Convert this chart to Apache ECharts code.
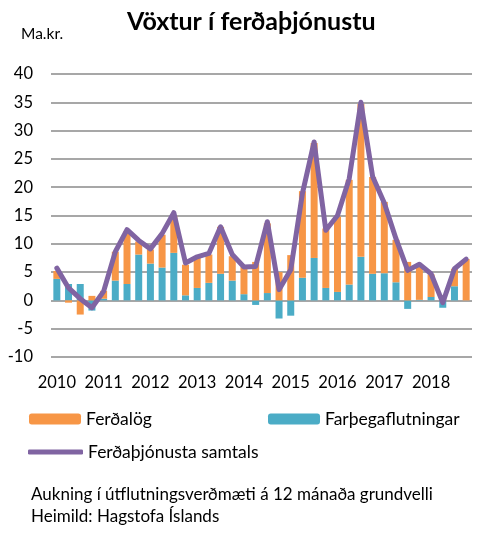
<!DOCTYPE html>
<html>
<head>
<meta charset="utf-8">
<script src="https://cdn.jsdelivr.net/npm/echarts@6/dist/echarts.min.js"></script>
<style>
  html, body { margin: 0; padding: 0; background: #fff; }
  #chart { width: 493px; height: 541px; }
</style>
</head>
<body>
<div id="chart"></div>
<script>
// ársfjórðungar 2010-2018
var years = ['2010', '2011', '2012', '2013', '2014', '2015', '2016', '2017', '2018'];
var quarters = [];
years.forEach(function (y) {
  ['K1', 'K2', 'K3', 'K4'].forEach(function (q) { quarters.push(y + ' ' + q); });
});

var farthegar = [3.8, 2.9, 2.9, -1.8, 0.3, 3.5, 2.9, 8.1, 6.5, 5.8, 8.4, 0.9,
  2.2, 3.1, 4.7, 3.5, 1.1, -0.8, 1.3, -3.2, -2.7, 4.0, 7.5, 2.2,
  1.5, 2.8, 7.7, 4.7, 4.8, 3.2, -1.5, 0.1, 0.6, -1.3, 2.5, 0.0];
var ferdalog = [1.4, -0.4, -2.5, 0.8, 1.4, 5.1, 9.3, 2.3, 2.5, 5.8, 6.5, 5.4,
  5.3, 5.0, 8.3, 4.3, 4.8, 6.8, 12.3, 5.0, 8.0, 15.3, 20.3, 10.5,
  13.3, 18.5, 27.0, 17.1, 12.6, 7.5, 6.8, 6.2, 4.0, 0.9, 3.1, 7.3];
var samtals = [5.7, 2.2, 0.3, -1.3, 1.6, 8.6, 12.5, 10.6, 9.1, 11.8, 15.5, 6.6,
  7.7, 8.3, 13.0, 8.1, 5.9, 6.0, 13.9, 1.9, 5.4, 18.9, 28.0, 12.4,
  15.0, 21.5, 35.0, 21.9, 17.2, 10.9, 5.3, 6.4, 4.7, -0.4, 5.6, 7.3];

var font = 'Lato, "Open Sans", sans-serif';
var legendText = { fontFamily: font, fontSize: 17.5, color: '#000' };

var chart = echarts.init(document.getElementById('chart'));
chart.setOption({
  animation: false,
  textStyle: { fontFamily: font, color: '#000' },
  title: [
    {
      text: 'Vöxtur í ferðaþjónustu',
      left: 127, top: 9,
      padding: 0,
      textStyle: { fontFamily: font, fontSize: 25, fontWeight: 'bold', color: '#000' }
    },
    {
      text: 'Ma.kr.',
      left: 21, top: 26,
      padding: 0,
      textStyle: { fontFamily: font, fontSize: 15.5, fontWeight: 'normal', color: '#000' }
    },
    {
      text: 'Aukning í útflutningsverðmæti á 12 mánaða grundvelli\nHeimild: Hagstofa Íslands',
      left: 31, top: 484,
      padding: 0,
      textStyle: { fontFamily: font, fontSize: 17, fontWeight: 'normal', color: '#000', lineHeight: 22 }
    }
  ],
  legend: [
    {
      data: ['Ferðalög'],
      left: 29, top: 410,
      padding: 0,
      itemWidth: 52, itemHeight: 11, itemGap: 0,
      textStyle: legendText
    },
    {
      data: ['Farþegaflutningar'],
      left: 268, top: 410,
      padding: 0,
      itemWidth: 52, itemHeight: 11, itemGap: 0,
      textStyle: legendText
    },
    {
      data: [{ name: 'Ferðaþjónusta samtals', icon: 'roundRect' }],
      left: 28, top: 443,
      padding: 0,
      itemWidth: 55, itemHeight: 5, itemGap: 0,
      textStyle: legendText
    }
  ],
  grid: { left: 51, right: 21, top: 74, bottom: 184 },
  xAxis: {
    type: 'category',
    data: quarters,
    axisLine: { show: false, onZero: false },
    axisTick: { show: false },
    axisLabel: {
      interval: 3,
      margin: 17,
      fontSize: 16.5,
      color: '#000',
      fontFamily: font,
      formatter: function (v) { return v.slice(0, 4); }
    }
  },
  yAxis: {
    type: 'value',
    min: -10, max: 40, interval: 5,
    axisLine: { show: false },
    axisTick: { show: false },
    axisLabel: { margin: 18, fontSize: 16.5, color: '#000', fontFamily: font },
    splitLine: { lineStyle: { color: '#8a8a8a', width: 1.5 } }
  },
  series: [
    {
      name: 'Farþegaflutningar',
      type: 'bar',
      stack: 'v',
      barWidth: 7,
      itemStyle: { color: '#4BACC6' },
      data: farthegar
    },
    {
      name: 'Ferðalög',
      type: 'bar',
      stack: 'v',
      barWidth: 7,
      itemStyle: { color: '#F79646' },
      data: ferdalog
    },
    {
      name: 'Ferðaþjónusta samtals',
      type: 'line',
      symbol: 'none',
      lineStyle: { color: '#8064A2', width: 5, cap: 'round', join: 'round' },
      itemStyle: { color: '#8064A2' },
      data: samtals
    }
  ]
});
</script>
</body>
</html>
